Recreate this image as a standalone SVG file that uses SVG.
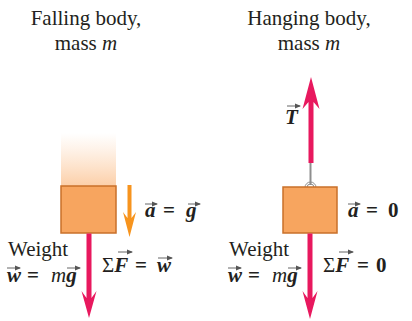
<svg xmlns="http://www.w3.org/2000/svg" width="412" height="321" viewBox="0 0 412 321">
<defs>
<linearGradient id="fade" x1="0" y1="0" x2="0" y2="1">
<stop offset="0" stop-color="#FDD9BA" stop-opacity="0"/>
<stop offset="1" stop-color="#FCCFA8" stop-opacity="1"/>
</linearGradient>
<marker id="vh" viewBox="0 0 6 6" refX="5" refY="3" markerWidth="6" markerHeight="6" markerUnits="userSpaceOnUse" orient="auto">
<path d="M0,0.6 L6,3 L0,5.4 Z" fill="#555"/>
</marker>
</defs>
<style>
.t{font-size:21px;fill:#231F20}
.bi{font-weight:bold;font-style:italic}
.it{font-style:italic}
.b{font-weight:bold}
.box{fill:#F7A55F;stroke:#C9702A;stroke-width:1.5}
.red{fill:#E8185E}
.org{fill:#F7941E}
.vec{stroke:#555;stroke-width:0.9;fill:none;marker-end:url(#vh)}
</style>
<rect width="412" height="321" fill="#fff"/>

<g font-family="Liberation Serif, Times New Roman, DejaVu Serif, serif">
<g id="titles">
<text class="t" x="86" y="25" text-anchor="middle">Falling body,</text>
<text class="t" x="86" y="50" text-anchor="middle">mass <tspan class="it">m</tspan></text>
<text class="t" x="309" y="25" text-anchor="middle">Hanging body,</text>
<text class="t" x="309" y="50" text-anchor="middle">mass <tspan class="it">m</tspan></text>
</g>

<g id="falling-body">
<rect x="61" y="133" width="55" height="53" fill="url(#fade)"/>
<rect class="box" x="61" y="186" width="55" height="47"/>
</g>

<g id="hanging-body">
<line x1="310.5" y1="160" x2="310.5" y2="185" stroke="#8E8E8E" stroke-width="2"/>
<path d="M305,187.5 A5.5,5.5 0 0 1 316,187.5" fill="none" stroke="#8E8E8E" stroke-width="1"/>
<path d="M307,187.5 A3.5,3.5 0 0 1 314,187.5" fill="none" stroke="#8E8E8E" stroke-width="1"/>
<rect class="box" x="283" y="187" width="54" height="46"/>
</g>

<g id="connectors">
<path class="org" d="M127.5,185 L131.5,185 L131.5,218 L136,212 L129.5,237 L123,212 L127.5,218 Z"/>
<path class="red" d="M86.5,233.5 L91.5,233.5 L91.5,298 L96.5,291 L89,318 L81.5,291 L86.5,298 Z"/>
<path class="red" d="M307.5,233.5 L312.5,233.5 L312.5,298 L317.5,291 L310,319 L302.5,291 L307.5,298 Z"/>
<path class="red" d="M308.5,163 L313.5,163 L313.5,102 L319.5,109 L311,77 L302.5,109 L308.5,102 Z"/>
</g>

<g id="label-a-g">
<text class="t" x="145" y="217"><tspan class="bi">a</tspan><tspan x="163" class="b">=</tspan><tspan x="186" class="bi">g</tspan></text>
<path class="vec" d="M145,204 L157,204"/>
<path class="vec" d="M188,204 L200,204"/>
</g>

<g id="label-a-0">
<text class="t" x="348" y="217"><tspan class="bi">a</tspan><tspan x="366" class="b">=</tspan><tspan x="388" class="b">0</tspan></text>
<path class="vec" d="M348,204 L360,204"/>
</g>

<g id="label-T">
<text class="t bi" x="285" y="124">T</text>
<path class="vec" d="M287,106 L300,106"/>
</g>

<g id="label-weight-left">
<text class="t" x="8" y="256">Weight</text>
<text class="t" x="7" y="282"><tspan class="bi">w</tspan><tspan x="27" class="b">=</tspan><tspan x="51" class="it">m</tspan><tspan class="bi">g</tspan></text>
<path class="vec" d="M7,268 L20,268"/>
<path class="vec" d="M67,268 L80,268"/>
</g>

<g id="label-sum-left">
<text class="t" x="102" y="272">Σ<tspan class="bi">F</tspan><tspan x="135" class="b">=</tspan><tspan x="157" class="bi">w</tspan></text>
<path class="vec" d="M118,252 L132,252"/>
<path class="vec" d="M158,258 L172,258"/>
</g>

<g id="label-weight-right">
<text class="t" x="229" y="256">Weight</text>
<text class="t" x="228" y="282"><tspan class="bi">w</tspan><tspan x="248" class="b">=</tspan><tspan x="272" class="it">m</tspan><tspan class="bi">g</tspan></text>
<path class="vec" d="M228,268 L241,268"/>
<path class="vec" d="M288,268 L301,268"/>
</g>

<g id="label-sum-right">
<text class="t" x="323" y="272">Σ<tspan class="bi">F</tspan><tspan x="357" class="b">=</tspan><tspan x="376" class="b">0</tspan></text>
<path class="vec" d="M339,252 L353,252"/>
</g>
</g>
</svg>
